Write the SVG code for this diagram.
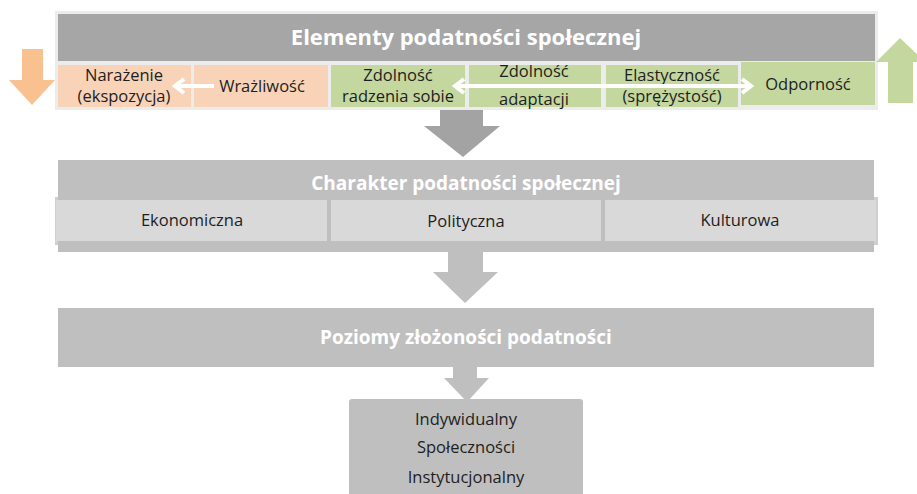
<svg xmlns="http://www.w3.org/2000/svg" width="917" height="494" viewBox="0 0 917 494">
<defs>
<style>
.title{font-family:"Open Sans","Liberation Sans",sans-serif;font-weight:bold;fill:#ffffff;text-anchor:middle}
.lbl{font-family:"Open Sans","Liberation Sans",sans-serif;font-size:16.5px;fill:#1e1e1e;text-anchor:middle}
.peach{fill:#f8d3b8}
.green{fill:#c4d79e}
.cell{fill:#d9d9d9}
.bar{fill:#bfbfbf}
.wline{stroke:#ffffff;stroke-width:4;fill:none}
</style>
</defs>
<rect width="917" height="494" fill="#ffffff"/>

<g id="frame-top">
<rect x="55" y="11" width="823" height="99" fill="#ececec"/>
</g>
<g id="header-elementy">
<rect x="58" y="14" width="817" height="47" fill="#a6a6a6"/>
<text class="title" x="466" y="45" font-size="22">Elementy podatności społecznej</text>
</g>
<g id="narazenie">
<rect class="peach" x="58" y="65" width="133" height="42"/>
<text class="lbl" x="124" y="81">Narażenie</text>
<text class="lbl" x="124" y="102">(ekspozycja)</text>
</g>
<g id="wrazliwosc">
<rect class="peach" x="194" y="65" width="134" height="42"/>
<text class="lbl" x="262" y="92">Wrażliwość</text>
</g>
<g id="radzenie">
<rect class="green" x="331" y="65" width="134" height="42"/>
<text class="lbl" x="398" y="81">Zdolność</text>
<text class="lbl" x="398" y="102">radzenia sobie</text>
</g>
<g id="adaptacja">
<rect class="green" x="469" y="65" width="132" height="42"/>
<text class="lbl" x="534" y="77">Zdolność</text>
<text class="lbl" x="534" y="105">adaptacji</text>
</g>
<g id="elastycznosc">
<rect class="green" x="606" y="65" width="132" height="42"/>
<text class="lbl" x="672" y="81">Elastyczność</text>
<text class="lbl" x="672" y="102">(sprężystość)</text>
</g>
<g id="odpornosc">
<rect class="green" x="741" y="62" width="134" height="43"/>
<text class="lbl" x="808" y="90">Odporność</text>
</g>

<g id="side-arrows">
<polygon points="22,49 43,49 43,80 55,80 32,105 9,80 22,80" fill="#f9c18f"/>
<polygon points="900,38 925,62 913,62 913,103 888,103 888,62 876,62" fill="#c4d79e"/>
</g>

<g id="charakter">
<rect x="55" y="197" width="823" height="48" fill="#cfcfcf"/>
<rect class="bar" x="58" y="160" width="816" height="92"/>
<text class="title" x="466" y="190" font-size="19">Charakter podatności społecznej</text>
<rect class="cell" x="56" y="200" width="271" height="41"/>
<text class="lbl" x="192" y="226">Ekonomiczna</text>
<rect class="cell" x="331" y="200" width="270" height="41"/>
<text class="lbl" x="466" y="227">Polityczna</text>
<rect class="cell" x="605" y="200" width="271" height="41"/>
<text class="lbl" x="740" y="226">Kulturowa</text>
</g>

<g id="poziomy">
<rect class="bar" x="58" y="308" width="816" height="59"/>
<text class="title" x="466" y="344" font-size="19">Poziomy złożoności podatności</text>
</g>

<g id="levels">
<rect class="bar" x="349" y="399" width="234" height="100" rx="3"/>
<text class="lbl" x="466" y="425">Indywidualny</text>
<text class="lbl" x="466" y="453">Społeczności</text>
<text class="lbl" x="466" y="483">Instytucjonalny</text>
</g>

<g id="connectors">
<polygon points="440,110 483,110 483,126 500,126 463,157 424,126 440,126" fill="#a3a3a3"/>
<polygon points="448,252 483,252 483,272 498,272 465,303 433,272 448,272" fill="#bfbfbf"/>
<polygon points="453,367 477,367 477,378 489,378 467,402 444,378 453,378" fill="#bfbfbf"/>
<path class="wline" d="M214,86 H176 M184,79 L175,86 L184,93"/>
<path class="wline" d="M456,86 H750 M464,79 L455,86 L464,93 M742,79 L751,86 L742,93"/>
</g>
</svg>
